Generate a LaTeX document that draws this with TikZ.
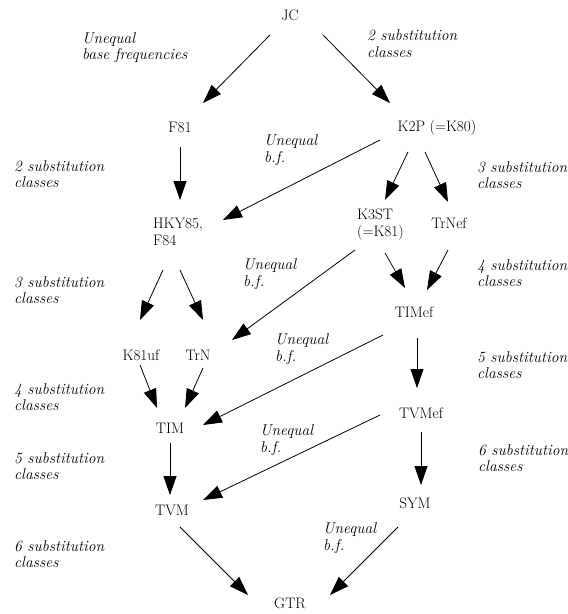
\documentclass[tikz,border=0pt]{standalone}
\usepackage{fontspec}
\usetikzlibrary{arrows.meta}
\begin{document}
\begin{tikzpicture}[x=1pt,y=-1pt,
  model/.style={inner sep=0pt, font=\fontsize{15.2}{17}\selectfont},
  twoline/.style={inner sep=0pt, align=left, anchor=west, font=\fontsize{15.2}{17}\selectfont},
  note/.style={inner sep=0pt, align=left, anchor=west, font=\fontsize{15.6}{16.5}\selectfont\itshape},
  arr/.style={line width=0.8pt, -{Triangle[length=19pt,width=13pt]}}]
\fill[white] (0,0) rectangle (568,614);
\useasboundingbox (0,0) rectangle (568,614);

% models
\node[model] (jc)    at (290,15)  {JC};
\node[model] (f81)   at (180,127) {F81};
\node[model] (k2p)   at (437,128) {K2P (=K80)};
\node[twoline] (hky) at (153,231.5) {HKY85,\\F84};
\node[twoline] (k3st) at (357,224.5) {K3ST\\(=K81)};
\node[model] (trnef) at (449,223) {TrNef};
\node[model] (timef) at (414,312) {TIMef};
\node[model] (k81uf) at (141,355) {K81uf};
\node[model] (trn)   at (198,355) {TrN};
\node[model] (tim)   at (170,428) {TIM};
\node[model] (tvmef) at (421,413) {TVMef};
\node[model] (tvm)   at (172,510) {TVM};
\node[model] (sym)   at (415,503) {SYM};
\node[model] (gtr)   at (290,603) {GTR};

% edge annotations
\node[note] (n1)  at (82,47.5)  {Unequal\\base frequencies};
\node[note] (n2)  at (367,43.5) {2 substitution\\classes};
\node[note] (n3)  at (264,150)  {Unequal\\b.f.};
\node[note] (n4)  at (14,174)   {2 substitution\\classes};
\node[note] (n5)  at (477,175)  {3 substitution\\classes};
\node[note] (n6)  at (243,274)  {Unequal\\b.f.};
\node[note] (n7)  at (14,290)   {3 substitution\\classes};
\node[note] (n8)  at (477,273)  {4 substitution\\classes};
\node[note] (n9)  at (275,349)  {Unequal\\b.f.};
\node[note] (n10) at (477,365)  {5 substitution\\classes};
\node[note] (n11) at (14,397)   {4 substitution\\classes};
\node[note] (n12) at (260,440)  {Unequal\\b.f.};
\node[note] (n13) at (14,466)   {5 substitution\\classes};
\node[note] (n14) at (478,458)  {6 substitution\\classes};
\node[note] (n15) at (323,538)  {Unequal\\b.f.};
\node[note] (n16) at (14,554)   {6 substitution\\classes};

% nesting arrows
\draw[arr] ([shift={(-20,20)}]jc.center)   -- ([shift={(23,-24)}]f81.center);
\draw[arr] ([shift={(33,20)}]jc.center)    -- ([shift={(-47,-25)}]k2p.center);
\draw[arr] ([shift={(0,20)}]f81.center)    -- ([shift={(27,-31.5)}]hky.west);
\draw[arr] ([shift={(-57,12)}]k2p.center)  -- ([shift={(70,-11.5)}]hky.west);
\draw[arr] ([shift={(-29,24)}]k2p.center)  -- ([shift={(28,-24.5)}]k3st.west);
\draw[arr] ([shift={(-12,24)}]k2p.center)  -- ([shift={(-1,-21)}]trnef.center);
\draw[arr] ([shift={(10,38.5)}]hky.west)   -- ([shift={(-1,-35)}]k81uf.center);
\draw[arr] ([shift={(27,38.5)}]hky.west)   -- ([shift={(5,-35)}]trn.center);
\draw[arr] ([shift={(-2,25.5)}]k3st.west)  -- ([shift={(34,-15)}]trn.center);
\draw[arr] ([shift={(28,28.5)}]k3st.west)  -- ([shift={(-9,-24)}]timef.center);
\draw[arr] ([shift={(-1,27)}]trnef.center) -- ([shift={(13,-22)}]timef.center);
\draw[arr] ([shift={(3,26)}]timef.center)  -- ([shift={(-4,-25)}]tvmef.center);
\draw[arr] ([shift={(-31,23)}]timef.center) -- ([shift={(33,-3)}]tim.center);
\draw[arr] ([shift={(-1,10)}]k81uf.center) -- ([shift={(-13,-20)}]tim.center);
\draw[arr] ([shift={(5,13)}]trn.center)    -- ([shift={(15,-20)}]tim.center);
\draw[arr] ([shift={(0,15)}]tim.center)    -- ([shift={(-2,-15)}]tvm.center);
\draw[arr] ([shift={(-41,2)}]tvmef.center) -- ([shift={(31,-10)}]tvm.center);
\draw[arr] ([shift={(0,19)}]tvmef.center)  -- ([shift={(6,-18)}]sym.center);
\draw[arr] ([shift={(8,17)}]tvm.center)    -- ([shift={(-42,-8)}]gtr.center);
\draw[arr] ([shift={(-17,24)}]sym.center)  -- ([shift={(40,-8)}]gtr.center);
\end{tikzpicture}
\end{document}
